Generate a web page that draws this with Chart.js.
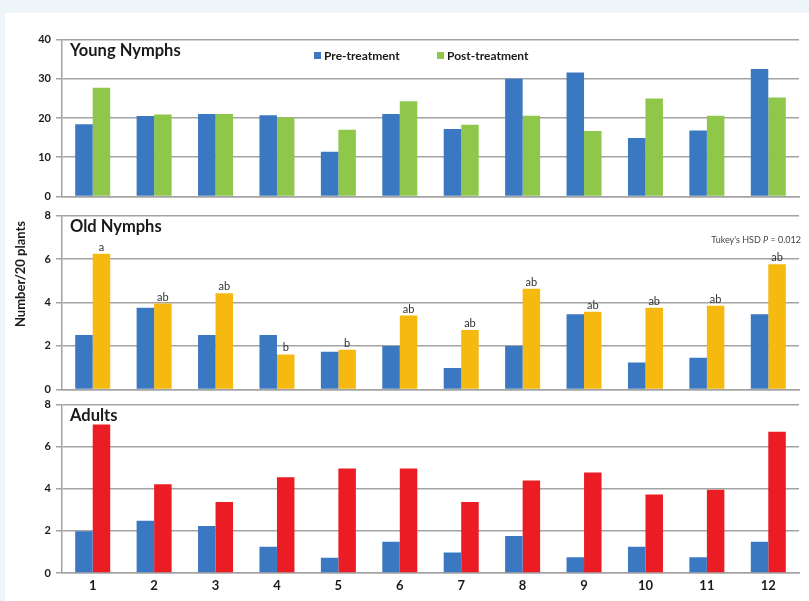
<!DOCTYPE html>
<html>
<head>
<meta charset="utf-8">
<script src="https://cdn.jsdelivr.net/npm/chart.js@4"></script>
<style>
  html, body { margin: 0; padding: 0; }
  body { width: 809px; height: 601px; background: #eef5f8; position: relative; overflow: hidden; }
  #sheet { position: absolute; left: 5px; top: 13px; right: 0; bottom: 0; background: #fff; }
  .panel { position: absolute; left: 0; width: 809px; }
</style>
</head>
<body>
<div id="sheet"></div>
<div class="panel" style="top:28px;height:180px"><canvas id="youngChart"></canvas></div>
<div class="panel" style="top:204px;height:197px"><canvas id="oldChart"></canvas></div>
<div class="panel" style="top:393px;height:208px"><canvas id="adultChart"></canvas></div>
<script>
  const days = ['1', '2', '3', '4', '5', '6', '7', '8', '9', '10', '11', '12'];

  const youngPre = [18.4, 20.5, 21.0, 20.7, 11.4, 21.0, 17.2, 30.0, 31.6, 14.9, 16.8, 32.5];
  const youngPost = [27.7, 20.9, 21.0, 20.1, 17.0, 24.3, 18.3, 20.6, 16.7, 25.0, 20.6, 25.2];

  const oldPre = [2.5, 3.76, 2.5, 2.5, 1.73, 2.0, 0.98, 2.0, 3.46, 1.24, 1.46, 3.46];
  const oldPost = [6.24, 3.95, 4.43, 1.61, 1.83, 3.4, 2.73, 4.63, 3.57, 3.76, 3.85, 5.76];
  const oldLetters = ['a', 'ab', 'ab', 'b', 'b', 'ab', 'ab', 'ab', 'ab', 'ab', 'ab', 'ab'];

  const adultPre = [1.98, 2.48, 2.23, 1.25, 0.73, 1.49, 0.97, 1.76, 0.75, 1.25, 0.75, 1.49];
  const adultPost = [7.06, 4.22, 3.37, 4.55, 4.97, 4.97, 3.37, 4.39, 4.78, 3.73, 3.95, 6.71];

  const FONT = 'Lato, "Open Sans", sans-serif';
  const BLUE = '#3b78c2';
  const gridGray = '#a3a3a3';

  // panel title, legend and letters drawn on top of each chart
  function panelText(title, extra) {
    return {
      id: 'panelText',
      afterDatasetsDraw(chart) {
        const ctx = chart.ctx;
        const area = chart.chartArea;
        ctx.save();
        ctx.fillStyle = '#1a1a1a';
        ctx.font = 'bold 16.5px ' + FONT;
        ctx.textAlign = 'left';
        ctx.textBaseline = 'alphabetic';
        ctx.fillText(title, area.left + 8, area.top + 16);
        if (extra) extra(chart, ctx, area);
        ctx.restore();
      }
    };
  }

  function makeOptions(max, step, showX) {
    return {
      responsive: true,
      maintainAspectRatio: false,
      animation: false,
      layout: { padding: { left: 0, right: 10, top: 10, bottom: 8 } },
      plugins: { legend: { display: false }, tooltip: { enabled: false } },
      datasets: { bar: { categoryPercentage: 0.57, barPercentage: 1.0 } },
      scales: {
        x: {
          grid: { display: false, drawTicks: false },
          border: { display: true, color: gridGray, width: 1.5 },
          ticks: {
            display: showX,
            padding: 5,
            color: '#1a1a1a',
            font: { family: FONT, size: 13, weight: 'bold' }
          },
          afterFit: s => { s.height = showX ? 20 : 0; }
        },
        y: {
          min: 0,
          max: max,
          ticks: {
            stepSize: step,
            padding: 5,
            color: '#1a1a1a',
            font: { family: FONT, size: 11, weight: 'bold' }
          },
          grid: { color: gridGray, lineWidth: 1.5, tickLength: 6, tickColor: gridGray },
          border: { display: true, color: gridGray, width: 1.5 },
          afterFit: s => { s.width = 62; }
        }
      }
    };
  }

  // Young Nymphs
  new Chart(document.getElementById('youngChart'), {
    type: 'bar',
    data: {
      labels: days,
      datasets: [
        { label: 'Pre-treatment', data: youngPre, backgroundColor: BLUE },
        { label: 'Post-treatment', data: youngPost, backgroundColor: '#8fc74b' }
      ]
    },
    options: makeOptions(40, 10, false),
    plugins: [panelText('Young Nymphs', (chart, ctx) => {
      // legend entries (canvas starts at y=28 on the page)
      const spots = [314, 437];
      ctx.font = 'bold 12px ' + FONT;
      chart.data.datasets.forEach((ds, i) => {
        ctx.fillStyle = ds.backgroundColor;
        ctx.fillRect(spots[i], 24, 7, 7);
        ctx.fillStyle = '#1a1a1a';
        ctx.fillText(ds.label, spots[i] + 10, 32);
      });
    })]
  });

  // Old Nymphs
  new Chart(document.getElementById('oldChart'), {
    type: 'bar',
    data: {
      labels: days,
      datasets: [
        { label: 'Pre-treatment', data: oldPre, backgroundColor: BLUE },
        { label: 'Post-treatment', data: oldPost, backgroundColor: '#f6b90f' }
      ]
    },
    options: makeOptions(8, 2, false),
    plugins: [panelText('Old Nymphs', (chart, ctx, area) => {
      ctx.fillStyle = '#333';
      ctx.font = '11px ' + FONT;
      ctx.textAlign = 'center';
      chart.getDatasetMeta(1).data.forEach((bar, i) => {
        ctx.fillText(oldLetters[i], bar.x, bar.y - 3);
      });
      ctx.textAlign = 'right';
      ctx.font = '9px ' + FONT;
      ctx.fillStyle = '#444';
      const tail = ' = 0.012';
      const tailW = ctx.measureText(tail).width;
      ctx.fillText(tail, area.right + 2, area.top + 27);
      ctx.font = 'italic 9px ' + FONT;
      const pW = ctx.measureText('P').width;
      ctx.fillText('P', area.right + 2 - tailW, area.top + 27);
      ctx.font = '9px ' + FONT;
      ctx.fillText("Tukey's HSD ", area.right + 2 - tailW - pW, area.top + 27);
      // shared y axis title
      ctx.save();
      ctx.translate(21, 274 - 204);
      ctx.rotate(-Math.PI / 2);
      ctx.textAlign = 'center';
      ctx.textBaseline = 'middle';
      ctx.fillStyle = '#1a1a1a';
      ctx.font = 'bold 13px ' + FONT;
      ctx.fillText('Number/20 plants', 0, 0);
      ctx.restore();
    })]
  });

  // Adults
  new Chart(document.getElementById('adultChart'), {
    type: 'bar',
    data: {
      labels: days,
      datasets: [
        { label: 'Pre-treatment', data: adultPre, backgroundColor: BLUE },
        { label: 'Post-treatment', data: adultPost, backgroundColor: '#ec1c24' }
      ]
    },
    options: makeOptions(8, 2, true),
    plugins: [panelText('Adults')]
  });
</script>
</body>
</html>
